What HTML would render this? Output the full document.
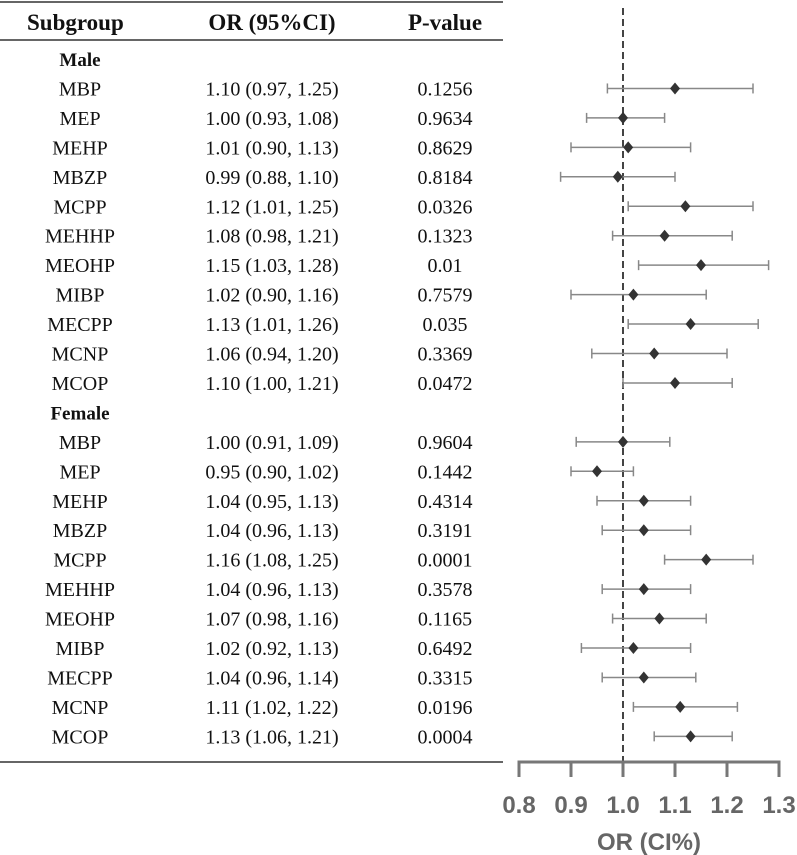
<!DOCTYPE html>
<html><head><meta charset="utf-8"><style>
body{margin:0;background:#fff;}
svg{display:block;}
</style></head><body>
<svg id="c" width="797" height="855"></svg>
<script>
const labels=["Male","MBP","MEP","MEHP","MBZP","MCPP","MEHHP","MEOHP","MIBP","MECPP","MCNP","MCOP","Female","MBP","MEP","MEHP","MBZP","MCPP","MEHHP","MEOHP","MIBP","MECPP","MCNP","MCOP"];
const orVals=[null,1.10,1.00,1.01,0.99,1.12,1.08,1.15,1.02,1.13,1.06,1.10,null,1.00,0.95,1.04,1.04,1.16,1.04,1.07,1.02,1.04,1.11,1.13];
const lowVals=[null,0.97,0.93,0.90,0.88,1.01,0.98,1.03,0.90,1.01,0.94,1.00,null,0.91,0.90,0.95,0.96,1.08,0.96,0.98,0.92,0.96,1.02,1.06];
const highVals=[null,1.25,1.08,1.13,1.10,1.25,1.21,1.28,1.16,1.26,1.20,1.21,null,1.09,1.02,1.13,1.13,1.25,1.13,1.16,1.13,1.14,1.22,1.21];
const pVals=[null,"0.1256","0.9634","0.8629","0.8184","0.0326","0.1323","0.01","0.7579","0.035","0.3369","0.0472",null,"0.9604","0.1442","0.4314","0.3191","0.0001","0.3578","0.1165","0.6492","0.3315","0.0196","0.0004"];
const ticks=["0.8","0.9","1.0","1.1","1.2","1.3"];
const NS="http://www.w3.org/2000/svg";
const SERIF="'Liberation Serif', 'Times New Roman', serif";
const SANS="'Liberation Sans', Arial, sans-serif";
const svg=document.getElementById('c');
function x(v){return 519+(v-0.8)*520;}
function y(i){return 59+i*29.45;}
function mk(tag,attrs,txt){const e=document.createElementNS(NS,tag);for(const k in attrs)e.setAttribute(k,attrs[k]);if(txt!==undefined)e.textContent=txt;svg.appendChild(e);return e;}
function T(xx,yy,txt,size,bold,anchor){return mk('text',{x:xx,y:yy,'font-family':SERIF,'font-size':size,'font-weight':bold?'bold':'normal',fill:'#111','text-anchor':anchor},txt);}
let e;
e=mk('line',{x1:0,x2:503,y1:2,y2:2,stroke:'#333','stroke-width':1.5});


e=mk('line',{x1:0,x2:503,y1:40,y2:40,stroke:'#333','stroke-width':1.5});


e=mk('line',{x1:0,x2:503,y1:762,y2:762,stroke:'#333','stroke-width':1.5});


e=T(27,30,'Subgroup',23,true,'start');


e=T(272,30,'OR (95%CI)',23,true,'middle');


e=T(445,30,'P-value',23,true,'middle');


e=mk('line',{x1:x(1.0),x2:x(1.0),y1:8,y2:762,stroke:'#444','stroke-width':2,'stroke-dasharray':'7,4'});


labels.forEach((lab,i)=>{
  const yy=y(i);
  if(orVals[i]===null){
    e=T(80,yy+7,lab,19,true,'middle');
    
    
    return;
  }
  e=T(80,yy+7,lab,20,false,'middle');
  
  
  e=T(272,yy+7,orVals[i].toFixed(2)+' ('+lowVals[i].toFixed(2)+', '+highVals[i].toFixed(2)+')',20,false,'middle');
  
  
  e=T(445,yy+7,pVals[i],20,false,'middle');
  
  
  e=mk('line',{x1:x(lowVals[i]),x2:x(highVals[i]),y1:yy,y2:yy,stroke:'#888','stroke-width':1.5});
  
  
  e=mk('line',{x1:x(lowVals[i]),x2:x(lowVals[i]),y1:yy-5,y2:yy+5,stroke:'#888','stroke-width':1.5});
  
  
  e=mk('line',{x1:x(highVals[i]),x2:x(highVals[i]),y1:yy-5,y2:yy+5,stroke:'#888','stroke-width':1.5});
  
  
  const cx=x(orVals[i]);
  e=mk('polygon',{points:`${cx},${yy-6} ${cx+5},${yy} ${cx},${yy+6} ${cx-5},${yy}`,fill:'#333'});
  
  
});
e=mk('line',{x1:x(0.8)-1.5,x2:x(1.3)+1.5,y1:762,y2:762,stroke:'#777','stroke-width':3});


ticks.forEach(t=>{
  const v=parseFloat(t);
  e=mk('line',{x1:x(v),x2:x(v),y1:762,y2:777,stroke:'#777','stroke-width':3});
  
  
  e=mk('text',{x:x(v),y:813,'font-family':SANS,'font-size':24,'font-weight':'bold',fill:'#666','text-anchor':'middle'},t);
  
  
});
e=mk('text',{x:x(1.05),y:850,'font-family':SANS,'font-size':24,'font-weight':'bold',fill:'#666','text-anchor':'middle'},'OR (CI%)');


</script>
</body></html>
